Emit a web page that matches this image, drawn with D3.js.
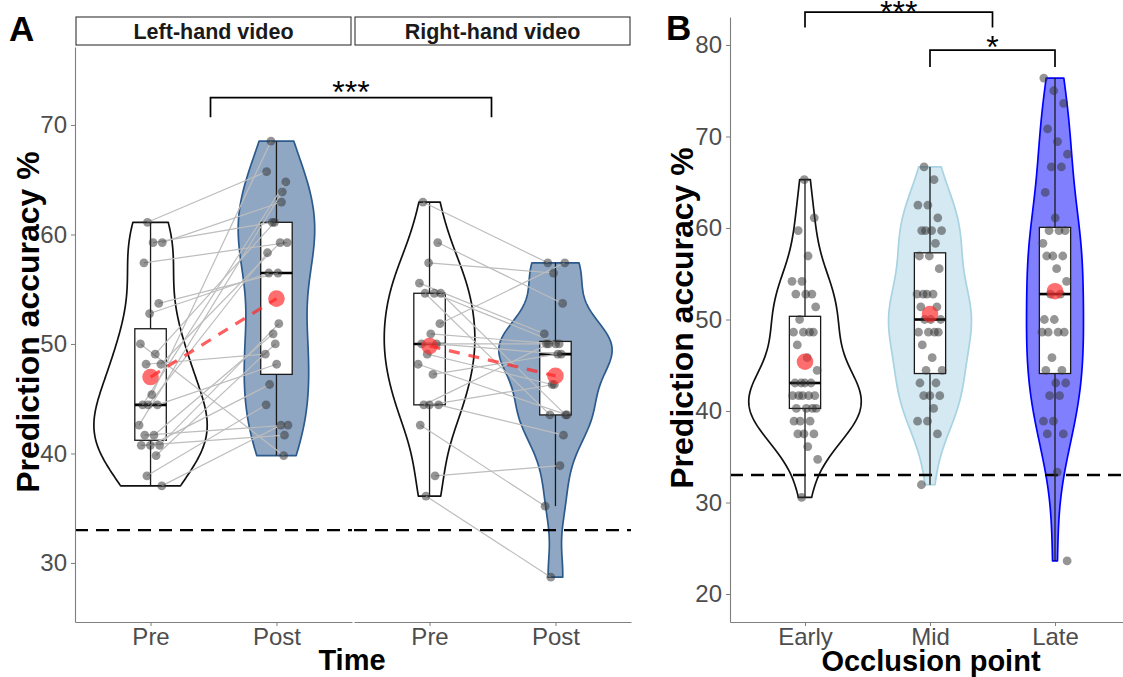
<!DOCTYPE html>
<html><head><meta charset="utf-8">
<script src="https://cdn.jsdelivr.net/npm/d3@7"></script>
<style>body{margin:0;background:#fff}svg{display:block}text{font-family:"Liberation Sans",Arial,sans-serif}</style>
</head><body><svg id="c" width="1123" height="677"></svg>
<script>
// ---------------- DATA ----------------
const facetsA = ["Left-hand video", "Right-hand video"];
const timesA = ["Pre", "Post"];
// paired participants (index i of Pre matches index i of Post)
const leftPre  = [61.11,59.26,59.26,57.41,53.70,52.78,50.00,49.07,48.15,48.15,45.37,44.44,44.44,44.44,42.59,41.67,41.67,40.74,40.74,40.74,39.81,37.96,37.04];
const leftPost = [65.74,62.96,61.11,59.26,56.48,56.48,39.81,61.11,49.07,59.26,68.52,64.81,48.15,58.33,63.89,50.93,42.59,51.85,46.30,41.67,50.00,44.44,42.59];
const rightPre  = [62.96,59.26,57.41,55.56,54.63,54.63,51.85,50.93,50.00,50.00,49.07,48.15,47.22,44.44,44.44,44.44,42.59,37.96,36.11,54.63];
const rightPost = [57.41,53.70,56.48,50.93,50.00,43.52,57.41,50.00,50.00,49.07,46.30,43.52,49.07,50.00,41.67,46.30,35.19,38.89,28.70,43.52];
const ticksA = [30, 40, 50, 60, 70];

const occlusion = ["Early", "Mid", "Late"];
const early = [30.56,34.72,36.11,37.50,37.50,37.50,38.89,38.89,38.89,40.28,40.28,40.28,40.28,41.67,41.67,41.67,41.67,41.67,43.06,43.06,43.06,43.06,44.44,45.83,47.22,48.61,48.61,48.61,48.61,50.00,51.39,52.78,52.78,52.78,54.17,54.17,56.94,59.72,61.11,65.28];
const mid   = [31.94,37.50,38.89,38.89,40.28,41.67,41.67,41.67,43.06,43.06,44.44,44.44,45.83,47.22,48.61,48.61,48.61,48.61,50.00,50.00,50.00,51.39,51.39,52.78,52.78,52.78,52.78,55.56,56.94,56.94,58.33,59.72,59.72,59.72,59.72,61.11,62.50,62.50,65.28,66.67];
const late  = [23.61,33.33,37.50,37.50,38.89,38.89,41.67,41.67,43.06,43.06,44.44,44.44,45.83,48.61,48.61,48.61,48.61,50.00,50.00,52.78,52.78,54.17,55.56,56.94,56.94,56.94,58.33,59.72,59.72,59.72,61.11,63.89,66.67,66.67,68.06,69.44,70.83,73.61,75.00,76.39];
const ticksB = [20, 30, 40, 50, 60, 70, 80];
const chanceLevel = 33.0;

// significance annotations
const sigA = [{from: 0, to: 1, top: 72.5, leg: 70.7, label: "***"}];           // facet centres
const sigB = [{from: 0, to: 1.5, top: 83.6, leg: 81.9, label: "***"},
              {from: 1, to: 2,   top: 79.45, leg: 77.6, label: "*"}];          // category index

// ---------------- HELPERS ----------------
const svg = d3.select("#c");
const tickCol = "#4d4d4d", axisCol = "#7f7f7f";
const TICK_FS = 24, TITLE_FS = 29, YTITLE_FS = 32;

function bwNrd0(v) {
  const s = v.slice().sort(d3.ascending);
  const sd = d3.deviation(s);
  const iqr = d3.quantile(s, 0.75) - d3.quantile(s, 0.25);
  let lo = Math.min(sd, iqr / 1.34);
  if (!(lo > 0)) lo = sd || Math.abs(s[0]) || 1;
  return 0.9 * lo * Math.pow(s.length, -0.2);
}
function kde(v) {
  const bw = bwNrd0(v), n = v.length;
  const lo = d3.min(v), hi = d3.max(v), N = 256;
  const out = [];
  for (let k = 0; k < N; k++) {
    const y = lo + (hi - lo) * k / (N - 1);
    let s = 0;
    for (const x of v) { const z = (y - x) / bw; s += Math.exp(-0.5 * z * z); }
    out.push({v: y, d: s / (n * bw * Math.sqrt(2 * Math.PI))});
  }
  return out;
}
function boxStats(v) {
  const s = v.slice().sort(d3.ascending);
  const q1 = d3.quantile(s, 0.25), med = d3.quantile(s, 0.5), q3 = d3.quantile(s, 0.75);
  const iqr = q3 - q1;
  const lo = d3.min(s.filter(x => x >= q1 - 1.5 * iqr));
  const hi = d3.max(s.filter(x => x <= q3 + 1.5 * iqr));
  return {q1, med, q3, lo, hi, mean: d3.mean(s)};
}
function jit(i) { return (((i * 0.6180339887 + 0.37) % 1) - 0.5) * 2; }

function drawViolin(g, dens, cx, y, scaleW, fill, stroke) {
  const area = d3.area().y(d => y(d.v)).x0(d => cx - d.d * scaleW).x1(d => cx + d.d * scaleW);
  g.append("path").attr("d", area(dens)).attr("fill", fill).attr("stroke", stroke)
    .attr("stroke-width", 1.7).attr("stroke-linejoin", "round");
}
function drawBox(g, st, cx, y, w) {
  g.append("line").attr("x1", cx).attr("x2", cx).attr("y1", y(st.hi)).attr("y2", y(st.lo))
    .attr("stroke", "#1a1a1a").attr("stroke-width", 1.3);
  g.append("rect").attr("x", cx - w / 2).attr("width", w).attr("y", y(st.q3)).attr("height", y(st.q1) - y(st.q3))
    .attr("fill", "#fff").attr("stroke", "#1a1a1a").attr("stroke-width", 1.3);
  g.append("line").attr("x1", cx - w / 2).attr("x2", cx + w / 2).attr("y1", y(st.med)).attr("y2", y(st.med))
    .attr("stroke", "#000").attr("stroke-width", 2.6);
}
function drawPoints(g, xs, ys) {
  g.selectAll(null).data(d3.range(xs.length)).join("circle")
    .attr("cx", i => xs[i]).attr("cy", i => ys[i]).attr("r", 4.4)
    .attr("fill", "#333").attr("fill-opacity", 0.52);
}
function drawMean(g, x, y) {
  g.append("circle").attr("cx", x).attr("cy", y).attr("r", 8.3).attr("fill", "#ff2a2a").attr("fill-opacity", 0.68);
}
function styleAxis(sel) {
  sel.selectAll(".domain").attr("stroke", axisCol).attr("stroke-width", 1.1);
  sel.selectAll(".tick line").attr("stroke", axisCol);
  sel.selectAll(".tick text").attr("fill", tickCol).attr("font-size", TICK_FS)
    .attr("font-family", '"Liberation Sans",Arial,sans-serif');
}
function bracket(x1, x2, yTop, yLeg, label, fs, yText) {
  svg.append("path").attr("d", `M${x1},${yLeg}V${yTop}H${x2}V${yLeg}`)
    .attr("fill", "none").attr("stroke", "#000").attr("stroke-width", 1.7);
  svg.append("text").attr("x", (x1 + x2) / 2).attr("y", yText).attr("text-anchor", "middle")
    .attr("font-size", fs).attr("fill", "#000").text(label);
}

// ---------------- PANEL A ----------------
const yA = d3.scaleLinear().domain([24.61, 77.12]).range([622, 47]);
const facetRange = [[75, 352], [354, 631]];
const dataA = [[leftPre, leftPost], [rightPre, rightPost]];
const J = 12;

facetsA.forEach((name, f) => {
  const [x0, x1] = facetRange[f];
  const x = d3.scalePoint().domain(timesA).range([x0, x1]).padding(0.6);
  const step = x.step();
  const g = svg.append("g");
  // strip
  g.append("rect").attr("x", x0 + 1).attr("y", 17).attr("width", x1 - x0 - 2).attr("height", 28)
    .attr("fill", "#fff").attr("stroke", "#333").attr("stroke-width", 1.1);
  g.append("text").attr("x", (x0 + x1) / 2).attr("y", 39).attr("text-anchor", "middle")
    .attr("font-size", 21.5).attr("font-weight", "bold").attr("fill", "#1a1a1a").text(name);

  const [pre, post] = dataA[f];
  const dPre = kde(pre), dPost = kde(post);
  const maxD = d3.max(dPre.concat(dPost), d => d.d);
  const sw = 0.45 * step / maxD;
  drawViolin(g, dPre, x("Pre"), yA, sw, "#fff", "#111");
  drawViolin(g, dPost, x("Post"), yA, sw, "#8fa7c3", "#2c5a8c");
  // chance line
  g.append("line").attr("x1", x0).attr("x2", x1).attr("y1", yA(chanceLevel)).attr("y2", yA(chanceLevel))
    .attr("stroke", "#000").attr("stroke-width", 2.4).attr("stroke-dasharray", "13,8");
  const bw = 0.25 * step;
  const sPre = boxStats(pre), sPost = boxStats(post);
  drawBox(g, sPre, x("Pre"), yA, bw);
  drawBox(g, sPost, x("Post"), yA, bw);
  const xsPre = pre.map((v, i) => x("Pre") + jit(i + f * 3) * J);
  const xsPost = post.map((v, i) => x("Post") + jit(i + 40 + f * 5) * J);
  g.selectAll(null).data(d3.range(pre.length)).join("line")
    .attr("x1", i => xsPre[i]).attr("y1", i => yA(pre[i]))
    .attr("x2", i => xsPost[i]).attr("y2", i => yA(post[i]))
    .attr("stroke", "#bdbdbd").attr("stroke-width", 1.2);
  drawPoints(g, xsPre, pre.map(yA));
  drawPoints(g, xsPost, post.map(yA));
  g.append("line").attr("x1", x("Pre")).attr("y1", yA(sPre.mean)).attr("x2", x("Post")).attr("y2", yA(sPost.mean))
    .attr("stroke", "#ff2a2a").attr("stroke-opacity", 0.75).attr("stroke-width", 3.2).attr("stroke-dasharray", "11,9");
  drawMean(g, x("Pre"), yA(sPre.mean));
  drawMean(g, x("Post"), yA(sPost.mean));
  // x axis
  const ax = g.append("g").attr("transform", "translate(0,622)")
    .call(d3.axisBottom(x).tickSize(4).tickSizeOuter(0).tickPadding(2));
  styleAxis(ax);
});
// y axis A
const ayA = svg.append("g").attr("transform", "translate(75,0)")
  .call(d3.axisLeft(yA).tickValues(ticksA).tickFormat(d3.format("d")).tickSize(4).tickSizeOuter(0).tickPadding(4));
styleAxis(ayA);
// significance A
const centresA = facetRange.map(r => (r[0] + r[1]) / 2);
sigA.forEach(s => bracket(centresA[s.from] - 3, centresA[s.to] - 1, yA(s.top), yA(s.leg), s.label, 32, 103));
// titles A
svg.append("text").attr("x", 352).attr("y", 670).attr("text-anchor", "middle").attr("font-size", TITLE_FS)
  .attr("font-weight", "bold").attr("fill", "#000").text("Time");
svg.append("text").attr("transform", "translate(39,322) rotate(-90)").attr("text-anchor", "middle")
  .attr("font-size", YTITLE_FS).attr("font-weight", "bold").attr("fill", "#000").text("Prediction accuracy %");
svg.append("text").attr("x", 9).attr("y", 41).attr("font-size", 35).attr("font-weight", "bold").text("A");

// ---------------- PANEL B ----------------
const yB = d3.scaleLinear().domain([16.94, 83.06]).range([622, 17]);
const xB = d3.scalePoint().domain(occlusion).range([730, 1130]).padding(0.6);
const stepB = xB.step();
const gB = svg.append("g");
const groupsB = [early, mid, late];
const fillsB = ["#ffffff", "#d4e9f1", "#8080ff"];
const strokesB = ["#111111", "#a8d3e2", "#0000ff"];
const densB = groupsB.map(kde);
const maxDB = d3.max(densB.flat(), d => d.d);
const swB = 0.45 * stepB / maxDB;
groupsB.forEach((v, k) => drawViolin(gB, densB[k], xB(occlusion[k]), yB, swB, fillsB[k], strokesB[k]));
gB.append("line").attr("x1", 730).attr("x2", 1123).attr("y1", yB(chanceLevel)).attr("y2", yB(chanceLevel))
  .attr("stroke", "#000").attr("stroke-width", 2.4).attr("stroke-dasharray", "13,8");
groupsB.forEach((v, k) => {
  const cx = xB(occlusion[k]);
  const st = boxStats(v);
  drawBox(gB, st, cx, yB, 0.25 * stepB);
  drawPoints(gB, v.map((d, i) => cx + jit(i + k * 11) * 13), v.map(yB));
  drawMean(gB, cx, yB(st.mean));
});
const axB = svg.append("g").attr("transform", "translate(0,622)")
  .call(d3.axisBottom(xB).tickSize(4).tickSizeOuter(0).tickPadding(2));
styleAxis(axB);
const ayB = svg.append("g").attr("transform", "translate(730,0)")
  .call(d3.axisLeft(yB).tickValues(ticksB).tickFormat(d3.format("d")).tickSize(4).tickSizeOuter(0).tickPadding(4));
styleAxis(ayB);
const posB = i => xB(occlusion[0]) + i * stepB;
sigB.forEach((s, j) => bracket(posB(s.from), posB(s.to), yB(s.top), yB(s.leg), s.label, 32, j === 0 ? 23 : 58));
svg.append("text").attr("x", 931).attr("y", 671).attr("text-anchor", "middle").attr("font-size", TITLE_FS)
  .attr("font-weight", "bold").attr("fill", "#000").text("Occlusion point");
svg.append("text").attr("transform", "translate(693,318) rotate(-90)").attr("text-anchor", "middle")
  .attr("font-size", YTITLE_FS).attr("font-weight", "bold").attr("fill", "#000").text("Prediction accuracy %");
svg.append("text").attr("x", 666).attr("y", 40).attr("font-size", 35).attr("font-weight", "bold").text("B");
</script></body></html>
